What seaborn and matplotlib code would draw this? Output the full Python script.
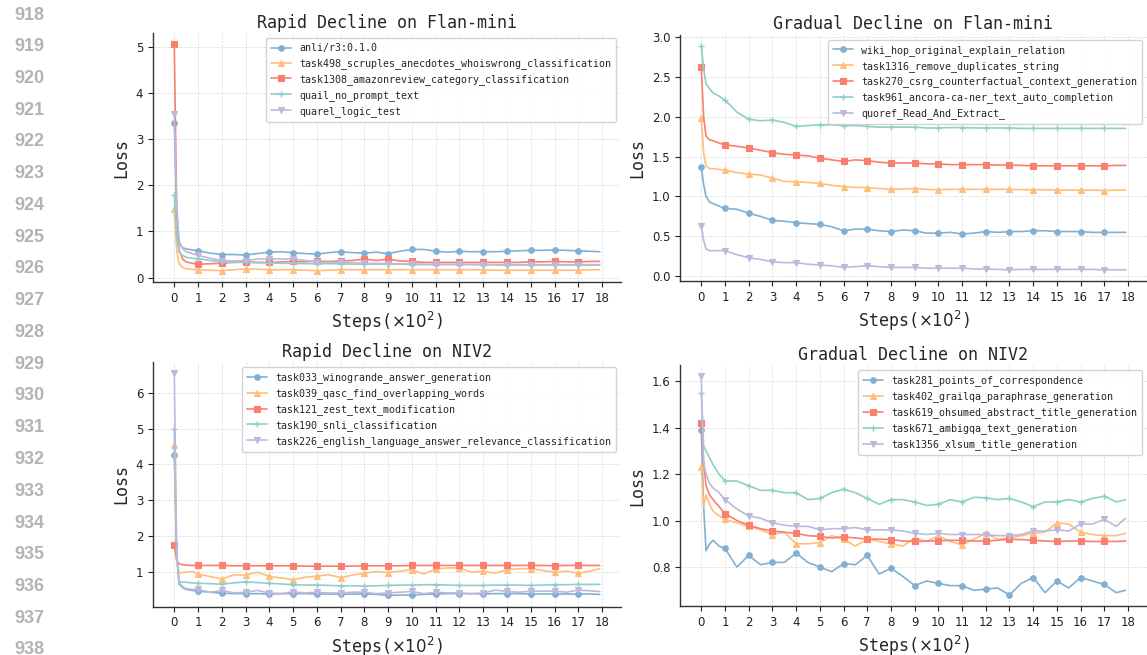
import matplotlib
matplotlib.use("Agg")
import matplotlib.pyplot as plt
import seaborn as sns

# steps (x100), shared by every curve
steps = [0, 0.1, 0.2, 0.35, 0.5, 0.75, 1, 1.5, 2, 2.5, 3, 3.5, 4, 4.5, 5, 5.5, 6, 6.5,
         7, 7.5, 8, 8.5, 9, 9.5, 10, 10.5, 11, 11.5, 12, 12.5, 13, 13.5, 14, 14.5,
         15, 15.5, 16, 16.5, 17, 17.5, 17.9]
ticks = list(range(19))

# Rapid Decline on Flan-mini
flan_rapid_names = ["anli/r3:0.1.0",
                    "task498_scruples_anecdotes_whoiswrong_classification",
                    "task1308_amazonreview_category_classification",
                    "quail_no_prompt_text",
                    "quarel_logic_test"]
flan_rapid_1 = [3.35, 1.4, 0.75, 0.65, 0.62, 0.60, 0.58, 0.53, 0.50, 0.50, 0.49, 0.52, 0.55, 0.56,
                0.54, 0.52, 0.51, 0.54, 0.56, 0.54, 0.53, 0.55, 0.52, 0.57, 0.61, 0.61, 0.57, 0.55,
                0.57, 0.56, 0.56, 0.56, 0.57, 0.58, 0.59, 0.59, 0.60, 0.59, 0.58, 0.57, 0.56]
flan_rapid_2 = [1.48, 0.6, 0.3, 0.22, 0.19, 0.18, 0.17, 0.16, 0.15, 0.17, 0.19, 0.18, 0.17, 0.17,
                0.17, 0.16, 0.15, 0.16, 0.17, 0.17, 0.17, 0.17, 0.17, 0.17, 0.17, 0.17, 0.17, 0.17,
                0.17, 0.17, 0.17, 0.16, 0.16, 0.16, 0.16, 0.16, 0.16, 0.16, 0.16, 0.17, 0.17]
flan_rapid_3 = [5.05, 1.5, 0.6, 0.40, 0.34, 0.31, 0.29, 0.30, 0.31, 0.33, 0.34, 0.33, 0.33, 0.34,
                0.35, 0.34, 0.36, 0.35, 0.36, 0.37, 0.40, 0.37, 0.40, 0.36, 0.35, 0.33, 0.33, 0.33,
                0.33, 0.33, 0.33, 0.33, 0.33, 0.33, 0.34, 0.34, 0.35, 0.34, 0.34, 0.35, 0.35]
flan_rapid_4 = [1.78, 0.9, 0.55, 0.48, 0.44, 0.42, 0.41, 0.37, 0.34, 0.33, 0.33, 0.32, 0.32, 0.31,
                0.31, 0.30, 0.30, 0.30, 0.30, 0.29, 0.29, 0.29, 0.29, 0.29, 0.28, 0.28, 0.28, 0.28,
                0.28, 0.28, 0.28, 0.28, 0.27, 0.27, 0.27, 0.27, 0.27, 0.27, 0.27, 0.27, 0.27]
flan_rapid_5 = [3.55, 1.6, 0.8, 0.62, 0.56, 0.52, 0.48, 0.42, 0.37, 0.36, 0.37, 0.40, 0.41, 0.40,
                0.41, 0.37, 0.34, 0.33, 0.33, 0.32, 0.31, 0.31, 0.30, 0.30, 0.30, 0.29, 0.29, 0.29,
                0.29, 0.29, 0.28, 0.28, 0.28, 0.28, 0.28, 0.28, 0.28, 0.28, 0.28, 0.28, 0.28]

# Gradual Decline on Flan-mini
flan_grad_names = ["wiki_hop_original_explain_relation",
                   "task1316_remove_duplicates_string",
                   "task270_csrg_counterfactual_context_generation",
                   "task961_ancora-ca-ner_text_auto_completion",
                   "quoref_Read_And_Extract_"]
flan_grad_1 = [1.37, 1.15, 1.0, 0.93, 0.91, 0.88, 0.85, 0.84, 0.79, 0.75, 0.70, 0.69, 0.67, 0.66,
               0.65, 0.62, 0.57, 0.59, 0.59, 0.57, 0.56, 0.58, 0.57, 0.54, 0.54, 0.55, 0.53, 0.54,
               0.56, 0.55, 0.56, 0.56, 0.57, 0.57, 0.56, 0.56, 0.56, 0.55, 0.55, 0.55, 0.55]
flan_grad_2 = [1.99, 1.55, 1.38, 1.35, 1.35, 1.34, 1.33, 1.30, 1.28, 1.27, 1.23, 1.19, 1.185, 1.175,
               1.165, 1.14, 1.125, 1.115, 1.11, 1.10, 1.09, 1.095, 1.10, 1.09, 1.085, 1.09, 1.09,
               1.09, 1.09, 1.09, 1.09, 1.085, 1.085, 1.085, 1.08, 1.08, 1.08, 1.08, 1.075, 1.08, 1.08]
flan_grad_3 = [2.62, 2.0, 1.76, 1.71, 1.70, 1.67, 1.65, 1.63, 1.61, 1.58, 1.55, 1.53, 1.52, 1.51,
               1.48, 1.46, 1.44, 1.46, 1.45, 1.43, 1.42, 1.42, 1.42, 1.41, 1.41, 1.40, 1.40, 1.40,
               1.40, 1.395, 1.395, 1.39, 1.385, 1.385, 1.385, 1.385, 1.385, 1.385, 1.385, 1.39, 1.39]
flan_grad_4 = [2.89, 2.6, 2.42, 2.35, 2.30, 2.26, 2.21, 2.06, 1.97, 1.95, 1.96, 1.93, 1.88, 1.89,
               1.90, 1.90, 1.89, 1.89, 1.88, 1.87, 1.87, 1.87, 1.87, 1.86, 1.86, 1.865, 1.865, 1.86,
               1.86, 1.86, 1.86, 1.855, 1.855, 1.855, 1.855, 1.855, 1.855, 1.855, 1.855, 1.855, 1.855]
flan_grad_5 = [0.63, 0.45, 0.34, 0.32, 0.32, 0.32, 0.32, 0.27, 0.23, 0.21, 0.18, 0.17, 0.17, 0.15,
               0.14, 0.13, 0.11, 0.12, 0.13, 0.12, 0.11, 0.11, 0.11, 0.10, 0.10, 0.10, 0.10, 0.09,
               0.09, 0.085, 0.08, 0.085, 0.085, 0.085, 0.085, 0.085, 0.085, 0.085, 0.08, 0.08, 0.08]

# Rapid Decline on NIV2
niv_rapid_names = ["task033_winogrande_answer_generation",
                   "task039_qasc_find_overlapping_words",
                   "task121_zest_text_modification",
                   "task190_snli_classification",
                   "task226_english_language_answer_relevance_classification"]
niv_rapid_1 = [4.27, 1.5, 0.65, 0.55, 0.50, 0.47, 0.45, 0.42, 0.39, 0.38, 0.38, 0.38, 0.37, 0.38,
               0.38, 0.38, 0.37, 0.37, 0.36, 0.37, 0.37, 0.36, 0.33, 0.34, 0.34, 0.36, 0.37, 0.38,
               0.38, 0.38, 0.37, 0.38, 0.38, 0.38, 0.37, 0.37, 0.37, 0.37, 0.37, 0.37, 0.36]
niv_rapid_2 = [4.55, 1.3, 0.96, 0.97, 0.98, 1.0, 0.93, 0.86, 0.79, 0.90, 0.90, 0.98, 0.86, 0.82,
               0.77, 0.84, 0.87, 0.91, 0.83, 0.90, 0.95, 1.0, 0.97, 1.01, 1.05, 0.93, 1.07, 1.10,
               1.10, 0.98, 1.01, 0.95, 1.05, 1.08, 1.08, 1.03, 0.98, 1.01, 0.95, 1.01, 1.08]
niv_rapid_3 = [1.75, 1.32, 1.22, 1.19, 1.18, 1.17, 1.17, 1.17, 1.17, 1.16, 1.16, 1.16, 1.16, 1.16,
               1.16, 1.15, 1.15, 1.15, 1.15, 1.15, 1.16, 1.16, 1.16, 1.16, 1.17, 1.17, 1.17, 1.17,
               1.17, 1.17, 1.17, 1.17, 1.17, 1.17, 1.17, 1.17, 1.16, 1.17, 1.17, 1.17, 1.17]
niv_rapid_4 = [5.0, 1.4, 0.72, 0.70, 0.70, 0.68, 0.67, 0.66, 0.645, 0.68, 0.71, 0.69, 0.67, 0.65,
               0.63, 0.62, 0.62, 0.61, 0.60, 0.60, 0.59, 0.60, 0.61, 0.62, 0.62, 0.63, 0.63, 0.62,
               0.61, 0.61, 0.61, 0.62, 0.62, 0.62, 0.61, 0.62, 0.63, 0.63, 0.64, 0.64, 0.64]
niv_rapid_5 = [6.55, 1.6, 0.7, 0.58, 0.52, 0.50, 0.50, 0.42, 0.47, 0.40, 0.42, 0.47, 0.40, 0.38,
               0.43, 0.40, 0.42, 0.40, 0.40, 0.42, 0.42, 0.38, 0.40, 0.42, 0.44, 0.38, 0.42, 0.40,
               0.40, 0.38, 0.40, 0.48, 0.44, 0.42, 0.45, 0.45, 0.45, 0.42, 0.48, 0.46, 0.44]

# Gradual Decline on NIV2
niv_grad_names = ["task281_points_of_correspondence",
                  "task402_grailqa_paraphrase_generation",
                  "task619_ohsumed_abstract_title_generation",
                  "task671_ambigqa_text_generation",
                  "task1356_xlsum_title_generation"]
niv_grad_1 = [1.39, 1.06, 0.87, 0.90, 0.915, 0.89, 0.88, 0.80, 0.85, 0.81, 0.82, 0.82, 0.86, 0.82,
              0.80, 0.78, 0.815, 0.81, 0.85, 0.77, 0.795, 0.76, 0.72, 0.74, 0.73, 0.72, 0.72, 0.70,
              0.705, 0.71, 0.68, 0.73, 0.755, 0.69, 0.74, 0.71, 0.755, 0.74, 0.725, 0.69, 0.70]
niv_grad_2 = [1.23, 1.06, 1.11, 1.07, 1.04, 1.02, 1.005, 0.99, 0.975, 0.96, 0.94, 0.95, 0.90, 0.90,
              0.905, 0.935, 0.92, 0.89, 0.92, 0.91, 0.90, 0.89, 0.925, 0.91, 0.935, 0.91, 0.895,
              0.92, 0.945, 0.92, 0.925, 0.935, 0.945, 0.95, 0.99, 0.985, 0.95, 0.94, 0.935, 0.935, 0.945]
niv_grad_3 = [1.42, 1.25, 1.15, 1.11, 1.09, 1.06, 1.03, 1.00, 0.98, 0.965, 0.955, 0.95, 0.945, 0.935,
              0.932, 0.925, 0.93, 0.925, 0.92, 0.92, 0.918, 0.912, 0.91, 0.912, 0.913, 0.915, 0.915,
              0.912, 0.912, 0.915, 0.92, 0.918, 0.915, 0.912, 0.91, 0.912, 0.912, 0.91, 0.91, 0.91, 0.912]
niv_grad_4 = [1.55, 1.32, 1.30, 1.27, 1.24, 1.20, 1.17, 1.17, 1.15, 1.13, 1.13, 1.12, 1.12, 1.09,
              1.095, 1.12, 1.135, 1.12, 1.095, 1.07, 1.09, 1.09, 1.08, 1.065, 1.07, 1.09, 1.08, 1.10,
              1.098, 1.09, 1.095, 1.08, 1.06, 1.08, 1.08, 1.09, 1.08, 1.095, 1.105, 1.08, 1.09]
niv_grad_5 = [1.62, 1.25, 1.20, 1.16, 1.14, 1.12, 1.09, 1.05, 1.02, 1.01, 0.99, 0.98, 0.975, 0.975,
              0.96, 0.965, 0.965, 0.97, 0.96, 0.96, 0.96, 0.955, 0.945, 0.94, 0.945, 0.94, 0.94, 0.94,
              0.94, 0.935, 0.935, 0.94, 0.955, 0.955, 0.96, 0.955, 0.985, 0.985, 1.005, 0.975, 1.01]

line_numbers = list(range(918, 939))

colors = ["#82B0D2", "#FFBE7A", "#FA7F6F", "#8ECFC9", "#BEB8DC"]
markers = ["o", "^", "s", "+", "v"]
# marker on every whole step
mark_idx = [i for i, s in enumerate(steps) if float(s).is_integer()]

sns.set_style("ticks")
mono = "DejaVu Sans Mono"

fig = plt.figure(figsize=(11.47, 6.55), dpi=100)

panels = [
    ("Rapid Decline on Flan-mini", flan_rapid_names,
     [flan_rapid_1, flan_rapid_2, flan_rapid_3, flan_rapid_4, flan_rapid_5],
     [0.1334, 0.5695, 0.408, 0.380], [0, 1, 2, 3, 4, 5]),
    ("Gradual Decline on Flan-mini", flan_grad_names,
     [flan_grad_1, flan_grad_2, flan_grad_3, flan_grad_4, flan_grad_5],
     [0.5929, 0.571, 0.407, 0.376], [0.0, 0.5, 1.0, 1.5, 2.0, 2.5, 3.0]),
    ("Rapid Decline on NIV2", niv_rapid_names,
     [niv_rapid_1, niv_rapid_2, niv_rapid_3, niv_rapid_4, niv_rapid_5],
     [0.1334, 0.074, 0.408, 0.373], [1, 2, 3, 4, 5, 6]),
    ("Gradual Decline on NIV2", niv_grad_names,
     [niv_grad_1, niv_grad_2, niv_grad_3, niv_grad_4, niv_grad_5],
     [0.5929, 0.075, 0.407, 0.367], [0.8, 1.0, 1.2, 1.4, 1.6]),
]

for title, names, series, pos, yticks in panels:
    ax = fig.add_axes(pos)
    for vals, name, c, m in zip(series, names, colors, markers):
        sns.lineplot(x=steps, y=vals, ax=ax, color=c, marker=m, markevery=mark_idx,
                     markersize=4 if m != "+" else 5, markeredgewidth=0.8 if m != "+" else 1.0,
                     markeredgecolor=c, linewidth=1.2, label=name, sort=False,
                     estimator=None, errorbar=None)
    ax.set_xticks(ticks)
    ax.set_yticks(yticks)
    ax.tick_params(labelsize=8.5, length=3.5, width=0.8, colors="#222222")
    ax.grid(True, linestyle="--", linewidth=0.5, color="#d9d9d9")
    ax.set_axisbelow(True)
    for sp in ["left", "bottom"]:
        ax.spines[sp].set_color("#333333")
        ax.spines[sp].set_linewidth(1.0)
    sns.despine(ax=ax)
    ax.set_title(title, fontsize=12, family=mono, pad=4)
    ax.set_xlabel(r"Steps($\times 10^2$)", fontsize=12, family=mono, labelpad=4)
    ax.set_ylabel("Loss", fontsize=12, family=mono)
    ax.legend(loc="upper right", prop={"family": mono, "size": 7.2}, frameon=True,
              fancybox=True, framealpha=0.85, edgecolor="#cccccc", borderpad=0.5,
              handlelength=2.0)

# page line numbers at the left margin
for i, n in enumerate(line_numbers):
    fig.text(44 / 1147, 1 - (15 + i * 31.75) / 655, str(n), ha="right", va="center",
             fontsize=13, color="#b3b3b3", family="Liberation Sans", fontweight="bold")

fig.savefig("out.png", dpi=100)
